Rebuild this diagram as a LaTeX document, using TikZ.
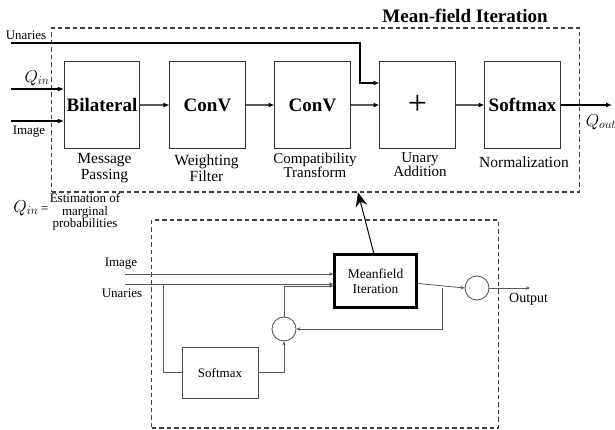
\documentclass[tikz,border=0pt]{standalone}
\usepackage{fontspec}
\setmainfont{Liberation Serif}
\usepackage{amsmath}
\usetikzlibrary{arrows.meta}

\begin{document}
\begin{tikzpicture}[scale=0.3514]
            \tikzstyle{every node}+=[inner sep=0pt]
            \tikzstyle{blockbox}=[draw=black!80, line width=1pt, minimum width=75pt, minimum height=86pt, font=\fontsize{19}{19}\selectfont\bfseries]
            \tikzstyle{caption}=[align=center, font=\fontsize{15.5}{15.5}\selectfont]
            \tikzstyle{smalltext}=[align=center, font=\fontsize{13}{12.5}\selectfont]
            \tikzstyle{mainflow}=[black, line width=1.4pt, -{Latex[length=6pt,width=5pt]}]
            \tikzstyle{loopflow}=[black!65, line width=0.8pt, -{Stealth[length=4pt,width=3.5pt]}]
            \tikzstyle{dashbox}=[draw=black!75, line width=1.05pt, dash pattern=on 4.5pt off 3pt]
            \useasboundingbox (0,0) rectangle (61.5,-43);
            % mean-field iteration
            \node [dashbox, minimum width=527pt, minimum height=164pt] (mf) at (31.55,-11) {};
            \draw (46.5,-1.6) node [font=\fontsize{19}{19}\selectfont\bfseries] {Mean-field Iteration};
            \node [blockbox] (bil) at (10.2,-10.5) {Bilateral};
            \node [blockbox] (conva) at (20.75,-10.5) {ConV};
            \node [blockbox] (convb) at (31.25,-10.5) {ConV};
            \node [blockbox, font=\fontsize{34}{34}\selectfont] (plus) at (41.75,-10.5) {+};
            \node [blockbox] (smx) at (52.25,-10.5) {Softmax};
            \draw (10.45,-16.8) node [caption] {Message\\Passing};
            \draw (20.65,-16.8) node [caption] {Weighting\\Filter};
            \draw (31.5,-16.5) node [caption, font=\fontsize{15}{14}\selectfont] {Compatibility\\Transform};
            \draw (42,-16.5) node [caption, font=\fontsize{15}{14}\selectfont] {Unary\\Addition};
            \draw (52.4,-16.2) node [caption] {Normalization};
            \coordinate (ua) at (1.1,-4.3);
            \coordinate (ub) at (36,-8.3);
            \coordinate (qa) at (1.1,-8.9);
            \coordinate (ia) at (1.1,-12.1);
            \coordinate (qo) at (61.2,-10.5);
            \draw (2.6,-3.5) node [smalltext] {Unaries};
            \draw (3.7,-7.8) node [font=\fontsize{18}{18}\selectfont] {$Q_{in}$};
            \draw (2.9,-13.2) node [smalltext] {Image};
            \draw (60.1,-12.2) node [font=\fontsize{17}{17}\selectfont] {$Q_{out}$};
            \draw [mainflow] (ua) -| (ub) -- (ub -| plus.west);
            \draw [mainflow] (qa) -- (qa -| bil.west);
            \draw [mainflow] (ia) -- (ia -| bil.west);
            \draw [mainflow] (bil) -- (conva);
            \draw [mainflow] (conva) -- (convb);
            \draw [mainflow] (convb) -- (plus);
            \draw [mainflow] (plus) -- (smx);
            \draw [mainflow] (smx.east) -- (qo);
            \draw (3.1,-20.8) node [font=\fontsize{17}{17}\selectfont] {$Q_{in}$\,{\fontsize{13}{13}\selectfont=}};
            \draw (8.5,-21.2) node [smalltext] {Estimation of\\marginal\\probabilities};
            % recurrent loop
            \node [dashbox, minimum width=346pt, minimum height=208pt] (loop) at (32.5,-32.4) {};
            \node [draw, line width=2.6pt, minimum width=82pt, minimum height=53pt, smalltext, font=\fontsize{13.5}{15}\selectfont] (mif) at (37.55,-28.1) {Meanfield\\Iteration};
            \node [draw=black!70, line width=0.8pt, minimum width=76pt, minimum height=51pt, smalltext] (smb) at (22,-37.25) {Softmax};
            \node [draw=black!70, line width=0.8pt, circle, minimum size=24pt] (ca) at (28.4,-32.9) {};
            \node [draw=black!70, line width=0.8pt, circle, minimum size=24pt] (cb) at (47.7,-28.8) {};
            \coordinate (ib) at (12.5,-27.4);
            \coordinate (ubb) at (12.5,-28.4);
            \coordinate (ubr) at (16.3,-28.4);
            \coordinate (fb) at (44.2,-28.8);
            \coordinate (outp) at (53,-28.8);
            \coordinate (tip) at (35.8,-19.25);
            \draw (12.1,-26.4) node [smalltext] {Image};
            \draw (12.2,-29.3) node [smalltext] {Unaries};
            \draw (50.9,-29.9) node [anchor=west, smalltext, font=\fontsize{14}{14}\selectfont] {Output};
            \draw [loopflow] (ib) -- (ib -| mif.west);
            \draw [loopflow] (ubb) -- (ubb -| mif.west);
            \draw [loopflow, -] (ubr) |- (smb.west);
            \draw [loopflow] (smb.east) -| (ca.south);
            \draw [loopflow] (ca.north) |- ([yshift=-14pt]mif.west);
            \draw [loopflow] ([yshift=-7pt]mif.east) -- (cb.west);
            \draw [loopflow] (fb) |- (ca.east);
            \draw [loopflow] (cb.east) -- (outp);
            \draw [black, line width=1pt, -{Stealth[length=14pt,width=12pt]}] ([xshift=-5pt]mif.north) -- (tip);
\end{tikzpicture}
\end{document}
